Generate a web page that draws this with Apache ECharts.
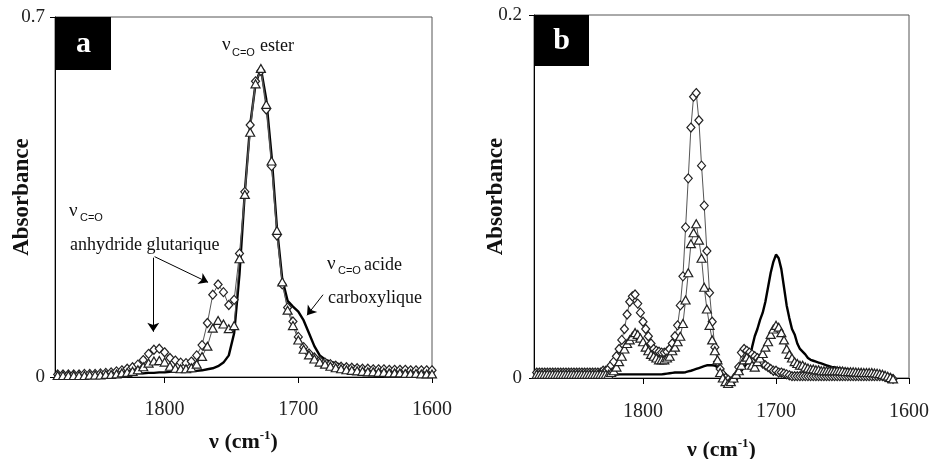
<!DOCTYPE html>
<html><head><meta charset="utf-8">
<script src="https://cdn.jsdelivr.net/npm/echarts@6/dist/echarts.min.js"></script>
<style>html,body{margin:0;padding:0;background:#fff}#c{width:934px;height:459px}</style>
</head><body><div id="c"></div>
<script>
// ---- Panel a (wavenumber grid, cm-1) ----
const nuA = [1880,1876,1872,1868,1864,1860,1856,1852,1848,1844,1840,1836,1832,1828,1824,1820,1816,1812,1808,1804,1800,1796,1792,1788,1784,1780,1776,1772,1768,1764,1760,1756,1752,1748,1744,1740,1736,1732,1728,1724,1720,1716,1712,1708,1704,1700,1696,1692,1688,1684,1680,1676,1672,1668,1664,1660,1656,1652,1648,1644,1640,1636,1632,1628,1624,1620,1616,1612,1608,1604,1600];
const diamondA = [
.005,.005,.005,.005,.005,.006,.006,.006,.007,.008,
.009,.011,.013,.016,.019,.024,.033,.045,.053,.055,
.048,.037,.032,.028,.027,.030,.042,.062,.105,.160,
.180,.165,.140,.150,.240,.360,.490,.575,.595,.520,
.410,.275,.180,.135,.108,.078,.058,.046,.038,.032,
.028,.025,.022,.020,.019,.018,.017,.016,.016,.015,
.015,.015,.014,.014,.014,.014,.013,.013,.013,.013,.013];
const triangleA = [
.003,.003,.003,.003,.003,.003,.004,.004,.004,.005,
.005,.006,.008,.009,.011,.014,.020,.027,.031,.032,
.029,.021,.017,.016,.016,.018,.025,.040,.060,.095,
.110,.103,.094,.100,.230,.355,.476,.570,.600,.530,
.420,.285,.185,.130,.100,.072,.054,.043,.035,.029,
.025,.021,.018,.016,.014,.013,.012,.011,.010,.010,
.009,.009,.008,.008,.008,.007,.007,.007,.006,.006,.006];
const solidA = [
.001,.001,.002,.002,.002,.003,.003,.003,.004,.004,
.004,.005,.005,.006,.006,.007,.007,.008,.008,.009,
.009,.010,.010,.010,.011,.011,.012,.013,.015,.017,
.021,.028,.042,.085,.200,.360,.490,.570,.600,.540,
.430,.290,.190,.148,.137,.127,.110,.085,.060,.042,
.034,.030,.027,.024,.022,.021,.020,.019,.018,.017,
.016,.015,.015,.014,.013,.013,.012,.011,.011,.010,.010];

// ---- Panel b ----
const nuB = [
1880,1878,1876,1874,1872,1870,1868,1866,1864,1862,
1860,1858,1856,1854,1852,1850,1848,1846,1844,1842,
1840,1838,1836,1834,1832,1830,1828,1826,1824,1822,
1820,1818,1816,1814,1812,1810,1808,1806,1804,1802,
1800,1798,1796,1794,1792,1790,1788,1786,1784,1782,
1780,1778,1776,1774,1772,1770,1768,1766,1764,1762,
1760,1758,1756,1754,1752,1750,1748,1746,1744,1742,
1740,1738,1736,1734,1732,1730,1728,1726,1724,1722,
1720,1718,1716,1714,1712,1710,1708,1706,1704,1702,
1700,1698,1696,1694,1692,1690,1688,1686,1684,1682,
1680,1678,1676,1674,1672,1670,1668,1666,1664,1662,
1660,1658,1656,1654,1652,1650,1648,1646,1644,1642,
1640,1638,1636,1634,1632,1630,1628,1626,1624,1622,
1620,1618,1616,1614,1612];
const diamondB = [
.003,.003,.003,.003,.003,.003,.003,.003,.003,.003,
.003,.003,.003,.003,.003,.003,.003,.003,.003,.003,
.003,.003,.003,.003,.003,.004,.004,.005,.007,.009,
.012,.016,.021,.027,.035,.042,.045,.046,.041,.036,
.031,.027,.023,.019,.016,.015,.0145,.014,.014,.0145,
.016,.019,.023,.029,.040,.056,.083,.110,.138,.155,
.157,.142,.117,.095,.070,.047,.031,.017,.009,.005,
.002,.000,-.001,-.002,-.001,.001,.006,.014,.016,.015,
.014,.013,.012,.011,.0095,.008,.007,.006,.005,.004,
.004,.003,.003,.0025,.002,.0015,.001,.001,.001,.001,
.001,.001,.001,.001,.001,.001,.001,.001,.001,.001,
.001,.001,.001,.001,.001,.001,.001,.001,.001,.001,
.001,.001,.001,.001,.001,.001,.001,.001,.001,.001,
.001,.0005,0,0,-.0005];
const triangleB = [
.002,.002,.002,.002,.002,.002,.002,.002,.002,.002,
.002,.002,.002,.002,.002,.002,.002,.002,.002,.002,
.002,.002,.002,.002,.002,.002,.002,.002,.003,.004,
.006,.009,.012,.016,.019,.021,.023,.025,.024,.022,
.020,.017,.015,.013,.012,.011,.010,.010,.010,.011,
.012,.015,.017,.020,.023,.030,.043,.058,.074,.080,
.085,.076,.066,.050,.038,.029,.021,.015,.010,.003,
.000,-.002,-.003,-.002,.000,.002,.004,.007,.010,.0115,
.010,.007,.006,.009,.011,.0135,.017,.020,.024,.027,
.029,.028,.025,.021,.016,.013,.011,.009,.008,.007,
.007,.006,.0055,.005,.005,.0045,.0045,.004,.004,.004,
.004,.004,.004,.004,.004,.0038,.0036,.0035,.0035,.0034,
.0033,.0032,.0031,.003,.003,.003,.003,.0028,.0026,.0024,
.002,.0015,.001,.0003,-.0005];
const solidB = [
.001,.001,.001,.001,.001,.001,.001,.001,.001,.001,
.001,.001,.001,.001,.001,.001,.001,.001,.001,.001,
.001,.001,.001,.001,.0012,.0014,.0015,.0016,.0017,.0018,
.0019,.002,.002,.002,.002,.002,.002,.002,.002,.002,
.002,.002,.002,.002,.002,.002,.002,.002,.0022,.0024,
.0026,.0028,.003,.003,.003,.003,.0032,.0036,.004,.0045,
.005,.0055,.006,.0065,.007,.007,.007,.0068,.006,.005,
.004,.002,.001,-.001,.000,-.001,.002,.004,.006,.008,
.010,.017,.023,.027,.032,.036,.042,.050,.058,.064,
.068,.066,.060,.050,.040,.033,.027,.024,.019,.016,
.0145,.013,.011,.010,.0095,.009,.0085,.008,.0075,.007,
.0065,.006,.006,.0055,.0053,.005,.005,.0048,.0045,.0042,
.004,.0037,.0035,.0032,.003,.0027,.0023,.002,.0015,.001,
.0005,0,-.0008,-.0015,-.002];

const xTicks = [1600, 1700, 1800];
const yMaxA = 0.7, yMaxB = 0.2;

function pairs(xs, ys){ return xs.map((x,i)=>[x, ys[i]]); }

const SERIF = '"Liberation Serif","Times New Roman",serif';
const SANS = '"Liberation Sans",Arial,sans-serif';

function xAxisCfg(gi, gap, margin){
  return {
    type:'value', gridIndex:gi, inverse:true, min:1600, max:1882, interval:100,
    axisLine:{show:true, onZero:false, lineStyle:{color:'#000', width:1}},
    axisTick:{show:true, inside:false, length:6, lineStyle:{color:'#000'}},
    splitLine:{show:false},
    axisLabel:{show:true, margin:margin, color:'#222', fontFamily:SERIF, fontSize:20, showMaxLabel:false,
      formatter: v => xTicks.includes(v) ? String(v) : ''},
    name:'{b|ν (cm}{s|-1}{b|)}', nameLocation:'middle', nameGap:gap, nameMoveOverlap:false,
    nameTextStyle:{rich:{
      b:{fontFamily:SERIF, fontWeight:'bold', fontSize:22, color:'#111'},
      s:{fontFamily:SERIF, fontWeight:'bold', fontSize:13, color:'#111', padding:[0,0,13,0]}
    }}
  };
}
function yAxisCfg(gi, max, margin, gap){
  return {
    type:'value', gridIndex:gi, min:0, max:max, interval:max,
    axisLine:{show:true, lineStyle:{color:'#000', width:1}},
    axisTick:{show:true, length:5, lineStyle:{color:'#000'}},
    splitLine:{show:false},
    axisLabel:{margin:margin, color:'#222', fontFamily:SERIF, fontSize:19},
    name:'Absorbance', nameLocation:'middle', nameRotate:90, nameGap:gap, nameMoveOverlap:false,
    nameTextStyle:{fontFamily:SERIF, fontWeight:'bold', fontSize:23, color:'#111'}
  };
}

function markerSeries(name, xi, data, symbol, size){
  return {
    name, type:'line', xAxisIndex:xi, yAxisIndex:xi, data, clip:false,
    symbol, symbolSize:size, showSymbol:true, showAllSymbol:true,
    lineStyle:{color:'#555', width:1},
    itemStyle:{color:'#fff', borderColor:'#222', borderWidth:1.2},
    z:3
  };
}
function solidSeries(name, xi, data, extra){
  return Object.assign({
    name, type:'line', xAxisIndex:xi, yAxisIndex:xi, data, clip:false,
    symbol:'none', lineStyle:{color:'#000', width:2.4}, z:2
  }, extra||{});
}

const arrowsA = {
  silent:true, symbol:['none','arrow'], symbolSize:9,
  lineStyle:{color:'#000', width:1, type:'solid'}, label:{show:false},
  data:[
    [{coord:[1808.5,0.232]},{coord:[1808.5,0.088]}],
    [{coord:[1807.5,0.234]},{coord:[1767.5,0.184]}],
    [{coord:[1681.5,0.160]},{coord:[1693.5,0.120]}]
  ]
};

function txt(x,y,text,size,family,weight,color){
  return {type:'text', left:x, top:y, z:10, style:{text, fontSize:size, fontFamily:family, fontWeight:weight||'normal', fill:color||'#111'}};
}

const option = {
  animation:false,
  backgroundColor:'#fff',
  grid:[
    {left:55, top:17, width:377, height:360, show:true, borderColor:'#555', borderWidth:1, containLabel:false, outerBoundsMode:'none'},
    {left:534, top:15, width:375, height:363, show:true, borderColor:'#555', borderWidth:1, containLabel:false, outerBoundsMode:'none'}
  ],
  xAxis:[ xAxisCfg(0, 52, 23), xAxisCfg(1, 59, 24) ],
  yAxis:[ yAxisCfg(0, yMaxA, 10, 21), yAxisCfg(1, yMaxB, 12, 26) ],
  series:[
    solidSeries('solid a', 0, pairs(nuA, solidA), {markLine:arrowsA}),
    markerSeries('diamond a', 0, pairs(nuA, diamondA), 'diamond', [8,9]),
    markerSeries('triangle a', 0, pairs(nuA, triangleA), 'triangle', [9,8]),
    solidSeries('solid b', 1, pairs(nuB, solidB)),
    markerSeries('diamond b', 1, pairs(nuB, diamondB), 'diamond', [8,9]),
    markerSeries('triangle b', 1, pairs(nuB, triangleB), 'triangle', [9,8])
  ],
  graphic:[
    {type:'rect', shape:{x:56, y:17, width:55, height:53}, style:{fill:'#000'}, z:10},
    {type:'text', x:83.5, y:44, z:11, style:{text:'a', fill:'#fff', fontFamily:SERIF, fontWeight:'bold', fontSize:30, align:'center', verticalAlign:'middle'}},
    {type:'rect', shape:{x:534, y:15, width:55, height:51}, style:{fill:'#000'}, z:10},
    {type:'text', x:561.5, y:41, z:11, style:{text:'b', fill:'#fff', fontFamily:SERIF, fontWeight:'bold', fontSize:30, align:'center', verticalAlign:'middle'}},
    // ester
    txt(222, 36, 'ν', 19, SERIF),
    txt(232, 47, 'C=O', 11, SANS),
    txt(260, 37, 'ester', 18, SERIF),
    // anhydride glutarique
    txt(69, 202, 'ν', 19, SERIF),
    txt(80, 212, 'C=O', 11, SANS),
    txt(70, 236, 'anhydride glutarique', 18, SERIF),
    // acide carboxylique
    txt(327, 255, 'ν', 19, SERIF),
    txt(338, 265, 'C=O', 11, SANS),
    txt(364, 256, 'acide', 18, SERIF),
    txt(328, 289, 'carboxylique', 18, SERIF)
  ]
};
const chart = echarts.init(document.getElementById('c'), null, {renderer:'canvas'});
chart.setOption(option);
</script>
</body></html>
